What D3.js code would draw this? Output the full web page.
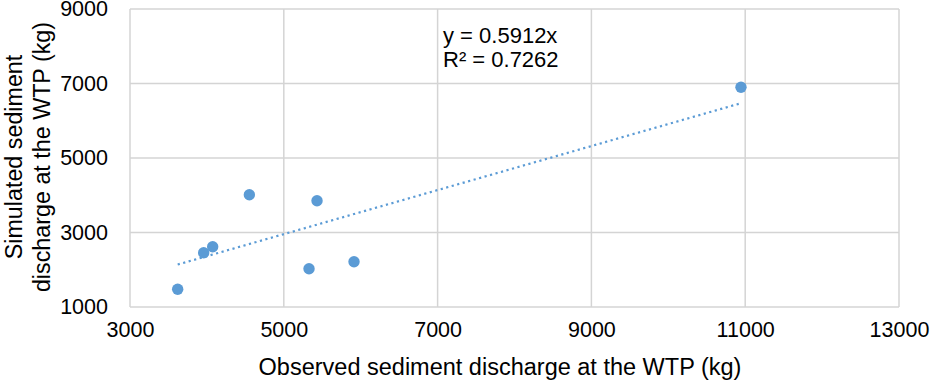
<!DOCTYPE html>
<html>
<head>
<meta charset="utf-8">
<script src="https://cdn.jsdelivr.net/npm/d3@7"></script>
<style>
  body { margin: 0; background: #fff; }
  text { font-family: "Liberation Sans", Arial, sans-serif; fill: #000; }
</style>
</head>
<body>
<svg id="chart" width="930" height="381"></svg>
<script>
// observed vs simulated sediment discharge (kg)
const observed = [3620, 3958, 4075, 4552, 5432, 5328, 5913, 10945];
const simulated = [1475, 2458, 2619, 4015, 3854, 2028, 2216, 6898];
const slope = 0.5912;
const xTicks = [3000, 5000, 7000, 9000, 11000, 13000];
const yTicks = [1000, 3000, 5000, 7000, 9000];
const eqLines = ['y = 0.5912x', 'R² = 0.7262'];

const width = 930, height = 381;
const margin = {top: 9, right: 31, bottom: 74, left: 130};
const svg = d3.select('#chart');
const w = width - margin.left - margin.right;
const h = height - margin.top - margin.bottom;

const x = d3.scaleLinear().domain([3000, 13000]).range([0, w]);
const y = d3.scaleLinear().domain([1000, 9000]).range([h, 0]);

const g = svg.append('g')
    .attr('transform', `translate(${margin.left}, ${margin.top})`);

// grid
g.append('g')
    .selectAll('line')
    .data(xTicks)
    .enter()
    .append('line')
        .attr('x1', (d) => x(d)).attr('x2', (d) => x(d))
        .attr('y1', 0).attr('y2', h)
        .attr('stroke', '#d4d4d4').attr('stroke-width', 1.5);
g.append('g')
    .selectAll('line')
    .data(yTicks)
    .enter()
    .append('line')
        .attr('x1', 0).attr('x2', w)
        .attr('y1', (d) => y(d)).attr('y2', (d) => y(d))
        .attr('stroke', '#d4d4d4').attr('stroke-width', 1.5);

// axes, only labels
const xAxis = g.append('g')
    .attr('transform', `translate(0, ${h})`)
    .call(d3.axisBottom(x).tickValues(xTicks).tickSize(0).tickPadding(15).tickFormat(d3.format('d')));
const yAxis = g.append('g')
    .call(d3.axisLeft(y).tickValues(yTicks).tickSize(0).tickPadding(22).tickFormat(d3.format('d')));
[xAxis, yAxis].forEach((a) => {
    a.select('.domain').remove();
    a.selectAll('text').attr('font-size', 21.5).attr('font-family', '"Liberation Sans", Arial, sans-serif').attr('fill', '#000');
});

// trendline through origin
const xMin = d3.min(observed), xMax = d3.max(observed);
g.append('line')
    .attr('x1', x(xMin)).attr('y1', y(xMin * slope))
    .attr('x2', x(xMax)).attr('y2', y(xMax * slope))
    .attr('stroke', '#5b9bd5')
    .attr('stroke-width', 2.2)
    .attr('stroke-dasharray', '2.2 3.5');

// points
g.selectAll('.pt')
    .data(observed.map((d, i) => ({ x: d, y: simulated[i] })))
    .enter()
    .append('circle')
        .attr('class', 'pt')
        .attr('cx', (d) => x(d.x))
        .attr('cy', (d) => y(d.y))
        .attr('r', 5.7)
        .attr('fill', '#5b9bd5');

// equation
g.append('g')
    .selectAll('text')
    .data(eqLines)
    .enter()
    .append('text')
        .attr('x', 443 - margin.left)
        .attr('y', (d, i) => 43 - margin.top + i * 24)
        .attr('font-size', 22)
        .text((d) => d);

// axis titles
svg.append('text')
    .attr('x', 500).attr('y', 375)
    .attr('text-anchor', 'middle')
    .attr('font-size', 23.5)
    .text('Observed sediment discharge at the WTP (kg)');

const yTitle = svg.append('text')
    .attr('transform', 'translate(0, 157) rotate(-90)')
    .attr('text-anchor', 'middle')
    .attr('font-size', 23.3);
yTitle.append('tspan').attr('x', 0).attr('y', 22).text('Simulated sediment');
yTitle.append('tspan').attr('x', 0).attr('y', 50).text('discharge at the WTP (kg)');
</script>
</body>
</html>
